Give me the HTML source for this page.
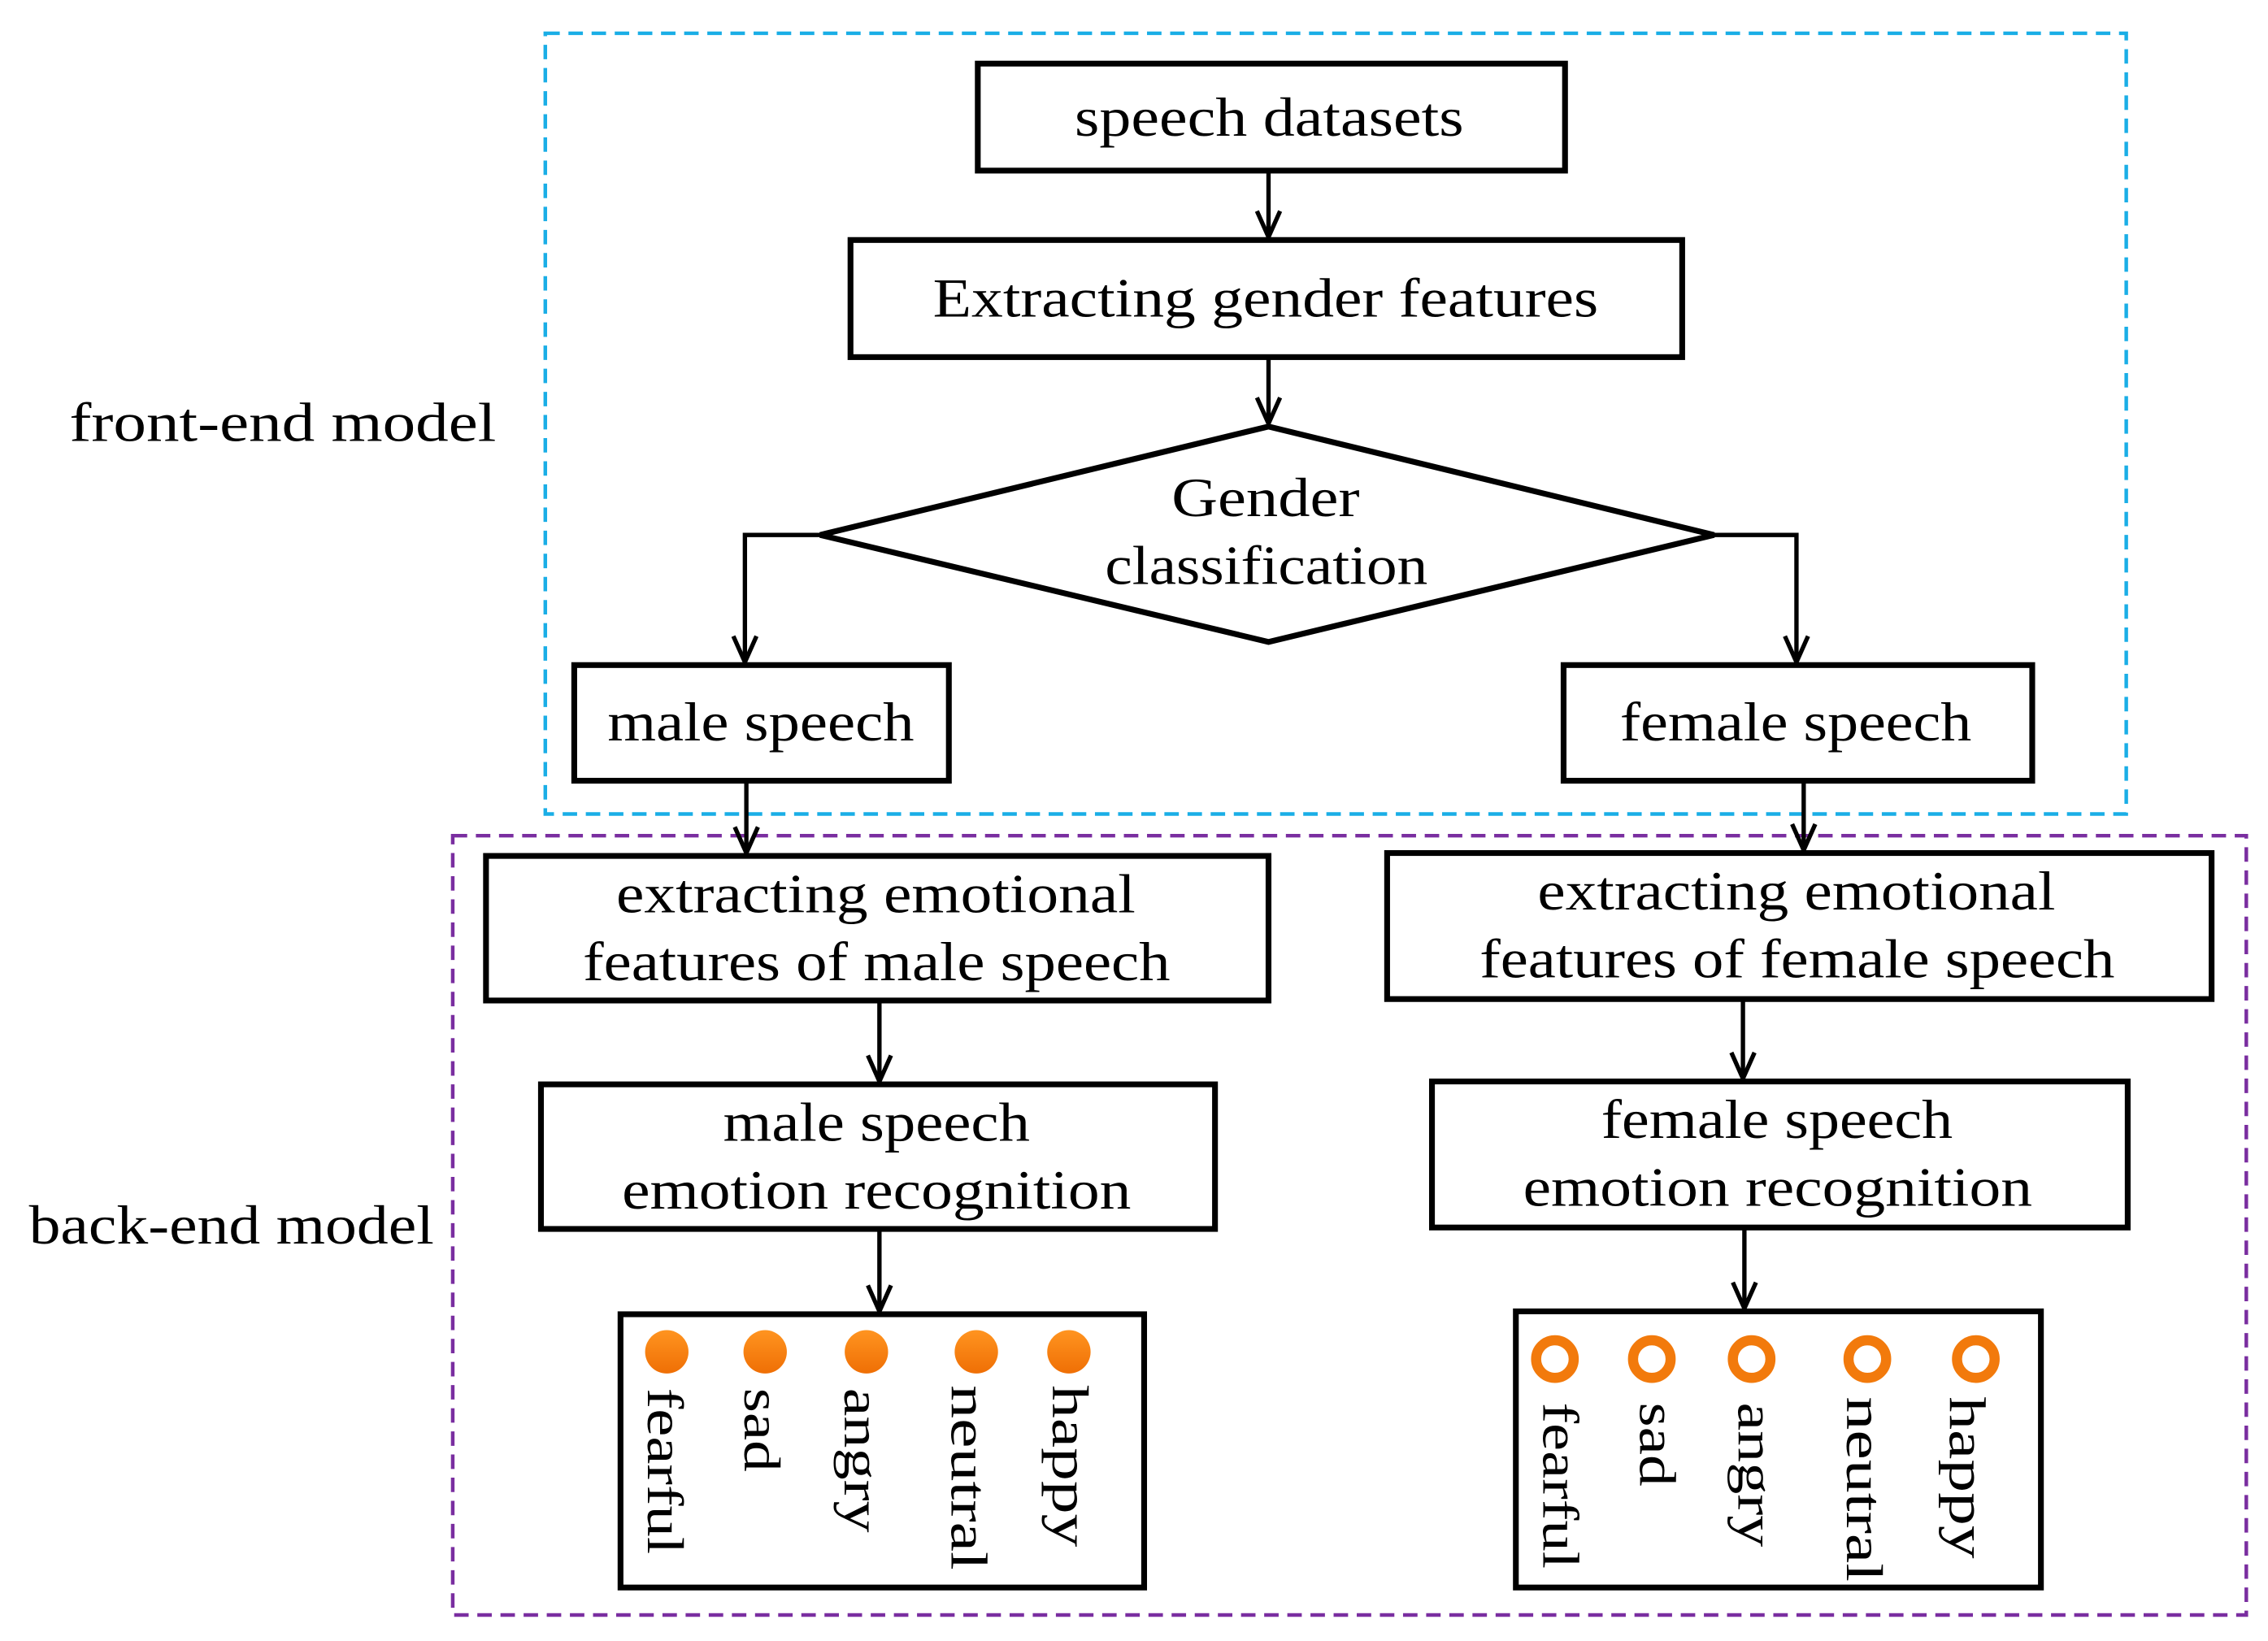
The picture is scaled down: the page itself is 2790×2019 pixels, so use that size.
<!DOCTYPE html>
<html><head><meta charset="utf-8"><style>
html,body{margin:0;padding:0;background:#fff}
svg{display:block}
text{font-family:"Liberation Serif",serif;fill:#000}
</style></head><body>
<svg width="2790" height="2019" viewBox="0 0 1568 1135" preserveAspectRatio="none" xmlns="http://www.w3.org/2000/svg">
<defs>
<linearGradient id="og" x1="0" y1="0" x2="0" y2="1"><stop offset="0" stop-color="#ff9420"/><stop offset="1" stop-color="#ef6f05"/></linearGradient>
</defs>
<rect x="377" y="23" width="1093" height="540" fill="none" stroke="#1aaee6" stroke-width="2.5" stroke-dasharray="10,6"/>
<rect x="313" y="578" width="1240" height="539" fill="none" stroke="#7a2ea0" stroke-width="2.5" stroke-dasharray="10,6"/>
<g fill="none" stroke="#000" stroke-width="4">
<rect x="676" y="44" width="406" height="74"/>
<rect x="588" y="166" width="575" height="81"/>
<polygon points="567,370 877,295 1185,370 877,444"/>
<rect x="397" y="460" width="259" height="80"/>
<rect x="1081" y="460" width="324" height="80"/>
<rect x="336" y="592" width="541" height="100"/>
<rect x="959" y="590" width="570" height="101"/>
<rect x="374" y="750" width="466" height="100"/>
<rect x="990" y="748" width="481" height="101"/>
<rect x="429" y="909" width="362" height="189"/>
<rect x="1048" y="907" width="363" height="191"/>
</g>
<g fill="none" stroke="#000" stroke-width="3">
<path d="M877,118 V164"/><path d="M869,146 L877,164 L885,146"/>
<path d="M877,247 V293"/><path d="M869,275 L877,293 L885,275"/>
<path d="M567,370 H515 V458"/><path d="M507,440 L515,458 L523,440"/>
<path d="M1185,370 H1242 V458"/><path d="M1234,440 L1242,458 L1250,440"/>
<path d="M516,540 V590"/><path d="M508,572 L516,590 L524,572"/>
<path d="M1247,540 V588"/><path d="M1239,570 L1247,588 L1255,570"/>
<path d="M608,692 V748"/><path d="M600,730 L608,748 L616,730"/>
<path d="M1205,691 V746"/><path d="M1197,728 L1205,746 L1213,728"/>
<path d="M608,850 V907"/><path d="M600,889 L608,907 L616,889"/>
<path d="M1206,849 V905"/><path d="M1198,887 L1206,905 L1214,887"/>
</g>
<g font-size="38" lengthAdjust="spacingAndGlyphs">
<text x="743" y="94" textLength="269" lengthAdjust="spacingAndGlyphs">speech datasets</text>
<text x="645" y="219" textLength="460" lengthAdjust="spacingAndGlyphs">Extracting gender features</text>
<text x="810" y="357" textLength="130" lengthAdjust="spacingAndGlyphs">Gender</text>
<text x="764" y="404" textLength="223" lengthAdjust="spacingAndGlyphs">classification</text>
<text x="420" y="512" textLength="212" lengthAdjust="spacingAndGlyphs">male speech</text>
<text x="1120" y="512" textLength="243" lengthAdjust="spacingAndGlyphs">female speech</text>
<text x="426" y="631" textLength="359" lengthAdjust="spacingAndGlyphs">extracting emotional</text>
<text x="403" y="678" textLength="406" lengthAdjust="spacingAndGlyphs">features of male speech</text>
<text x="1063" y="629" textLength="358" lengthAdjust="spacingAndGlyphs">extracting emotional</text>
<text x="1023" y="676" textLength="439" lengthAdjust="spacingAndGlyphs">features of female speech</text>
<text x="500" y="789" textLength="212" lengthAdjust="spacingAndGlyphs">male speech</text>
<text x="430" y="836" textLength="352" lengthAdjust="spacingAndGlyphs">emotion recognition</text>
<text x="1107" y="787" textLength="243" lengthAdjust="spacingAndGlyphs">female speech</text>
<text x="1053" y="834" textLength="352" lengthAdjust="spacingAndGlyphs">emotion recognition</text>
<text x="48" y="305" textLength="295" lengthAdjust="spacingAndGlyphs">front-end  model</text>
<text x="20" y="860" textLength="280" lengthAdjust="spacingAndGlyphs">back-end model</text>
</g>
<g fill="url(#og)">
<circle cx="461" cy="935" r="15"/><circle cx="529" cy="935" r="15"/><circle cx="599" cy="935" r="15"/><circle cx="675" cy="935" r="15"/><circle cx="739" cy="935" r="15"/>
</g>
<g fill="none" stroke="#f27a0c" stroke-width="7">
<circle cx="1075" cy="940" r="13"/><circle cx="1142" cy="940" r="13"/><circle cx="1211" cy="940" r="13"/><circle cx="1291" cy="940" r="13"/><circle cx="1366" cy="940" r="13"/>
</g>
<g font-size="36" dominant-baseline="central">
<text transform="translate(460,960) rotate(90)" textLength="115" lengthAdjust="spacingAndGlyphs">fearful</text>
<text transform="translate(527,960) rotate(90)" textLength="58" lengthAdjust="spacingAndGlyphs">sad</text>
<text transform="translate(596,960) rotate(90)" textLength="100" lengthAdjust="spacingAndGlyphs">angry</text>
<text transform="translate(670,958) rotate(90)" textLength="128" lengthAdjust="spacingAndGlyphs">neutral</text>
<text transform="translate(740,958) rotate(90)" textLength="112" lengthAdjust="spacingAndGlyphs">happy</text>
<text transform="translate(1079,970) rotate(90)" textLength="115" lengthAdjust="spacingAndGlyphs">fearful</text>
<text transform="translate(1146,970) rotate(90)" textLength="58" lengthAdjust="spacingAndGlyphs">sad</text>
<text transform="translate(1214,970) rotate(90)" textLength="100" lengthAdjust="spacingAndGlyphs">angry</text>
<text transform="translate(1289,966) rotate(90)" textLength="128" lengthAdjust="spacingAndGlyphs">neutral</text>
<text transform="translate(1360,966) rotate(90)" textLength="112" lengthAdjust="spacingAndGlyphs">happy</text>
</g>
</svg>
</body></html>
